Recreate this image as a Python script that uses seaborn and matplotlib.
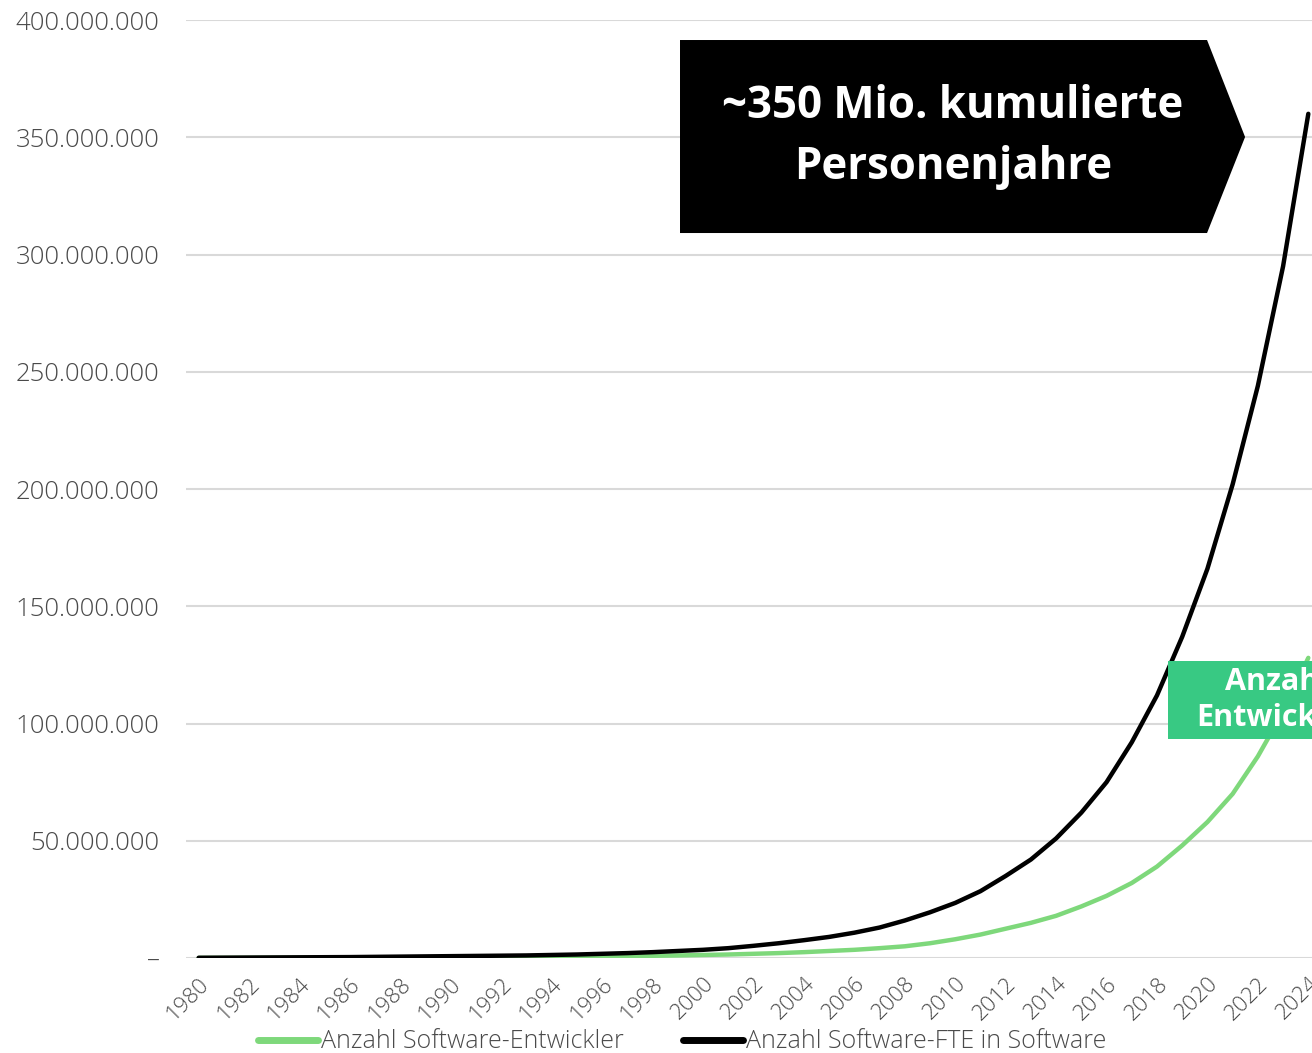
import numpy as np
import pandas as pd
import matplotlib
matplotlib.use("Agg")
import matplotlib.pyplot as plt
from matplotlib.patches import Polygon
from matplotlib.ticker import FuncFormatter
import seaborn as sns

years = list(range(1980, 2025))

# cumulative person-years (millions)
entwickler = [0.05, 0.07, 0.09, 0.11, 0.13, 0.15, 0.18, 0.21, 0.24, 0.28,
              0.32, 0.36, 0.40, 0.45, 0.50, 0.57, 0.65, 0.80, 0.95, 1.1,
              1.3, 1.5, 1.8, 2.1, 2.5, 3.0, 3.5, 4.2, 5.0, 6.3,
              8.0, 10.0, 12.5, 15.0, 18.0, 22.0, 26.5, 32.0, 39.0, 48.0,
              58.0, 70.0, 86.0, 105.0, 128.0]
fte = [0.10, 0.15, 0.20, 0.25, 0.30, 0.35, 0.40, 0.50, 0.60, 0.70,
       0.80, 0.90, 1.0, 1.1, 1.3, 1.5, 1.8, 2.1, 2.5, 3.0,
       3.5, 4.2, 5.2, 6.3, 7.6, 9.0, 10.8, 13.0, 16.0, 19.5,
       23.5, 28.5, 35.0, 42.0, 51.0, 62.0, 75.0, 92.0, 112.0, 137.0,
       166.0, 202.0, 244.0, 295.0, 360.0]

series_names = ["Anzahl Software-Entwickler", "Anzahl Software-FTE in Software"]
series_colors = ["#7ED87B", "#000000"]
y_ticks = [0, 50e6, 100e6, 150e6, 200e6, 250e6, 300e6, 350e6, 400e6]
x_ticks = years[::2]

df = pd.DataFrame({
    "Jahr": years * 2,
    "Wert": [v * 1e6 for v in entwickler] + [v * 1e6 for v in fte],
    "Serie": [series_names[0]] * len(years) + [series_names[1]] * len(years),
})

sns.set_theme(style="white")
plt.rcParams["font.family"] = ["Open Sans", "DejaVu Sans"]

fig = plt.figure(figsize=(13.12, 10.53), dpi=100)
ax = fig.add_axes([0.1418, 0.0902, 0.865, 0.8908])

sns.lineplot(data=df, x="Jahr", y="Wert", hue="Serie", hue_order=series_names,
             palette=series_colors, linewidth=3.2, ax=ax, legend=False)

ax.set_xlim(1979.5, 2024.5)
ax.set_ylim(0, 400e6)
ax.set_yticks(y_ticks)
ax.yaxis.set_major_formatter(FuncFormatter(
    lambda v, p: "–" if v == 0 else f"{int(v):,}".replace(",", ".")))
ax.set_xticks(x_ticks)
ax.set_xticklabels([str(y) for y in x_ticks], rotation=45, ha="right",
                   rotation_mode="anchor")
ax.tick_params(axis="y", labelsize=18.5, colors="#4a4a4a", length=0, pad=19)
ax.tick_params(axis="x", labelsize=16, colors="#4a4a4a", length=0, pad=11)
for lbl in ax.get_xticklabels() + ax.get_yticklabels():
    lbl.set_fontweight("light")
ax.grid(axis="y", color="#d9d9d9", linewidth=1.5)
ax.set_axisbelow(True)
for s in ax.spines.values():
    s.set_visible(False)
ax.set_xlabel("")
ax.set_ylabel("")

# black arrow box
box = Polygon([(0.5183, 0.962), (0.92, 0.962), (0.949, 0.8699),
               (0.92, 0.7787), (0.5183, 0.7787)], closed=True,
              transform=fig.transFigure, facecolor="black", edgecolor="none",
              zorder=5)
fig.patches.append(box)
fig.text(0.7264, 0.8699, "~350 Mio. kumulierte\nPersonenjahre", color="white",
         fontsize=31.5, fontweight="bold", ha="center", va="center",
         linespacing=1.45, zorder=6)

# green box (cut at right edge)
gbox = Polygon([(0.8902, 0.3723), (1.1, 0.3723), (1.1, 0.2982), (0.8902, 0.2982)],
               closed=True, transform=fig.transFigure, facecolor="#38C983",
               edgecolor="none", zorder=5)
fig.patches.append(gbox)
fig.text(0.973, 0.3352, "Anzahl\nEntwickler", color="white", fontsize=22,
         fontweight="bold", ha="center", va="center", linespacing=1.25, zorder=6)

handles = [plt.Line2D([], [], color=c, linewidth=5) for c in series_colors]
leg = fig.legend(handles, series_names, loc="center", ncol=2, frameon=False,
                 bbox_to_anchor=(0.52, 1 - 1042 / 1053), fontsize=18,
                 handlelength=2.4, handletextpad=0.1, columnspacing=2.4,
                 labelcolor="#4a4a4a")
for t in leg.get_texts():
    t.set_fontweight("light")

fig.savefig("out.png", dpi=100)
